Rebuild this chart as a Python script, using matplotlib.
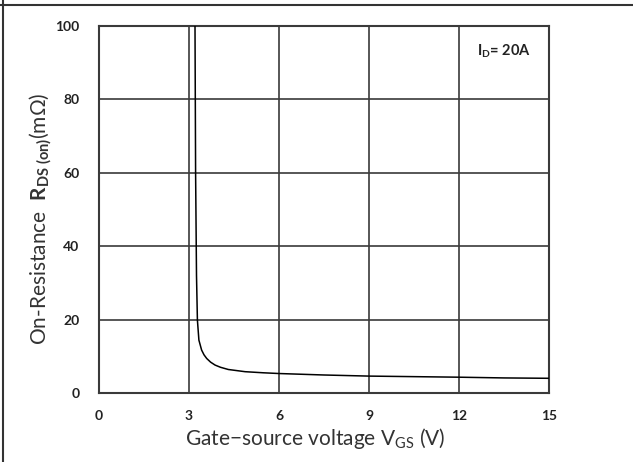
import numpy as np
import matplotlib
matplotlib.use('Agg')
import matplotlib.pyplot as plt
from matplotlib.lines import Line2D

# curve
vgs = [3.2, 3.22, 3.25, 3.28, 3.33, 3.42, 3.5, 3.59, 3.72, 3.87, 4.05, 4.31, 4.87, 5.48, 6.0, 7.5, 9.0, 10.5, 12.0, 13.5, 15.0]
rds = [100, 60, 32, 19.9, 14.4, 11.7, 10.4, 9.4, 8.4, 7.6, 7.0, 6.4, 5.8, 5.5, 5.3, 4.9, 4.6, 4.45, 4.3, 4.1, 4.0]

xticks = [0, 3, 6, 9, 12, 15]
yticks = [0, 20, 40, 60, 80, 100]

plt.rcParams['font.family'] = ['Lato', 'DejaVu Sans']
plt.rcParams['mathtext.fontset'] = 'custom'
plt.rcParams['mathtext.rm'] = 'Lato'
plt.rcParams['mathtext.bf'] = 'Lato:bold'
plt.rcParams['mathtext.it'] = 'Lato:italic'

fig = plt.figure(figsize=(6.33, 4.62), dpi=100)
ax = fig.add_axes([0.1564, 0.1494, 0.7109, 0.7944])

gridc = '#3a3a3a'
ax.plot(vgs, rds, color='black', lw=1.1, zorder=3)

ax.set_xlim(0, 15)
ax.set_ylim(0, 100)
ax.set_xticks(xticks)
ax.set_yticks(yticks)
ax.set_xticklabels([str(t) for t in xticks], fontweight='bold', fontsize=10, color='#222222')
ax.set_yticklabels([str(t) for t in yticks], fontweight='bold', fontsize=10, color='#222222')
ax.tick_params(axis='x', length=0, pad=12)
ax.tick_params(axis='y', length=0, pad=14)
ax.grid(True, color=gridc, lw=1.2)
for s in ax.spines.values():
    s.set_color(gridc)
    s.set_linewidth(1.5)

ax.set_xlabel('Gate\u2212source voltage V$_{\\mathrm{GS}}$ (V)', fontsize=15, color='#333333')
ax.xaxis.set_label_coords(0.48, -0.09)
ax.set_ylabel('On-Resistance  $\\mathbf{R}_{\\mathbf{DS\\ (on)}}$(m\u03a9)', fontsize=15, color='#333333')
ax.yaxis.set_label_coords(-0.1, 0.475)

ax.text(0.9, 0.93, 'I$_{\\mathbf{D}}$= 20A', transform=ax.transAxes, fontsize=10.5,
        fontweight='bold', ha='center', va='center', color='#222222')

# outer frame lines of the source picture
fig.add_artist(Line2D([0, 1], [0.989, 0.989], transform=fig.transFigure, color='#333333', lw=1.5))
fig.add_artist(Line2D([0.005, 0.005], [0, 1], transform=fig.transFigure, color='#333333', lw=1.5))

fig.savefig('out.png', dpi=100)
